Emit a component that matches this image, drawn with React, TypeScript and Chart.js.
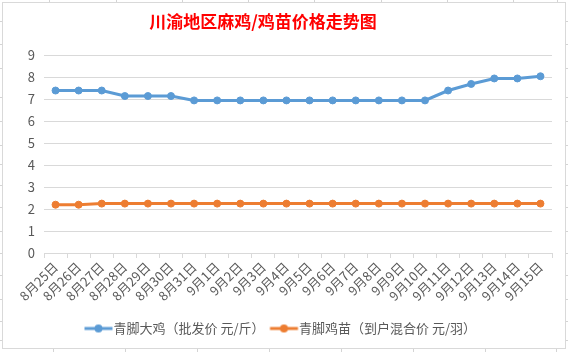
import React, { useEffect, useRef } from "react";
import { Chart, registerables } from "chart.js";

Chart.register(...registerables);

const categories = [
  "8月25日", "8月26日", "8月27日", "8月28日", "8月29日", "8月30日", "8月31日",
  "9月1日", "9月2日", "9月3日", "9月4日", "9月5日", "9月6日", "9月7日", "9月8日",
  "9月9日", "9月10日", "9月11日", "9月12日", "9月13日", "9月14日", "9月15日",
];

const broilerPrices = [
  7.4, 7.4, 7.4, 7.15, 7.15, 7.15, 6.95,
  6.95, 6.95, 6.95, 6.95, 6.95, 6.95, 6.95, 6.95,
  6.95, 6.95, 7.4, 7.7, 7.95, 7.95, 8.05,
];

const chickPrices = [
  2.2, 2.2, 2.25, 2.25, 2.25, 2.25, 2.25,
  2.25, 2.25, 2.25, 2.25, 2.25, 2.25, 2.25, 2.25,
  2.25, 2.25, 2.25, 2.25, 2.25, 2.25, 2.25,
];

const seriesNames = ["青脚大鸡（批发价 元/斤）", "青脚鸡苗（到户混合价 元/羽）"];
const titleText = "川渝地区麻鸡/鸡苗价格走势图";
const yTicks = [0, 1, 2, 3, 4, 5, 6, 7, 8, 9];

const BLUE = "#5b9bd5";
const ORANGE = "#ed7d31";
const GRID = "#d9d9d9";
const TEXT = "#595959";
const FONT = "'Noto Sans CJK SC', 'Noto Sans', sans-serif";

const sheetLeftRight = [21, 44, 68, 97, 121, 145, 164, 185, 207, 231, 253, 275, 299, 321, 340];
const sheetTop = [49, 116, 182, 248, 314, 381, 447, 513, 557];
const sheetBottom = [53, 125, 197, 269, 341, 413, 485, 556];

function legendImage(color: string) {
  const c = document.createElement("canvas");
  c.width = 50;
  c.height = 10;
  const ctx = c.getContext("2d")!;
  ctx.strokeStyle = color;
  ctx.lineWidth = 3;
  ctx.beginPath();
  ctx.moveTo(16.5, 5);
  ctx.lineTo(44.5, 5);
  ctx.stroke();
  ctx.fillStyle = color;
  ctx.beginPath();
  ctx.arc(30.5, 5, 4, 0, Math.PI * 2);
  ctx.fill();
  return c;
}

const titlePlugin = {
  id: "customTitle",
  afterDraw(chart: any) {
    const ctx = chart.ctx;
    ctx.save();
    ctx.font = `bold 17px ${FONT}`;
    ctx.fillStyle = "#ff0000";
    ctx.textAlign = "center";
    ctx.textBaseline = "middle";
    ctx.fillText(titleText, chart.width * 0.4625, 19);
    ctx.restore();
  },
};

export default function App() {
  const ref = useRef<HTMLCanvasElement>(null);

  useEffect(() => {
    if (!ref.current) return;
    const imgs = [legendImage(BLUE), legendImage(ORANGE)];
    const chart = new Chart(ref.current, {
      type: "line",
      data: {
        labels: categories,
        datasets: [
          {
            label: seriesNames[0],
            data: broilerPrices,
            borderColor: BLUE,
            backgroundColor: BLUE,
            borderWidth: 3,
            pointRadius: 3.5,
            pointBackgroundColor: BLUE,
            pointBorderColor: BLUE,
            pointBorderWidth: 1,
            tension: 0,
          },
          {
            label: seriesNames[1],
            data: chickPrices,
            borderColor: ORANGE,
            backgroundColor: ORANGE,
            borderWidth: 3,
            pointRadius: 3.5,
            pointBackgroundColor: ORANGE,
            pointBorderColor: ORANGE,
            pointBorderWidth: 1,
            tension: 0,
          },
        ],
      },
      options: {
        animation: false,
        responsive: true,
        maintainAspectRatio: false,
        layout: { padding: { left: 0, right: 13, top: 0, bottom: 3 } },
        plugins: {
          title: {
            display: true,
            text: titleText,
            color: "rgba(0,0,0,0)",
            font: { family: FONT, size: 17, weight: "bold" },
            padding: { top: 9, bottom: 23 },
          },
          legend: {
            display: true,
            position: "bottom",
            labels: {
              color: TEXT,
              font: { family: FONT, size: 13 },
              usePointStyle: true,
              pointStyleWidth: 28,
              padding: 0,
              generateLabels: (ch: any) =>
                ch.data.datasets.map((ds: any, i: number) => ({
                  text: ds.label,
                  fillStyle: ds.borderColor,
                  strokeStyle: ds.borderColor,
                  lineWidth: 0,
                  pointStyle: imgs[i],
                  hidden: false,
                  datasetIndex: i,
                  fontColor: TEXT,
                })),
            },
          },
          tooltip: { enabled: false },
        },
        scales: {
          x: {
            type: "category",
            offset: true,
            grid: {
              display: true,
              offset: true,
              drawOnChartArea: false,
              drawTicks: true,
              tickLength: 5,
              color: GRID,
            },
            border: { display: true, color: GRID },
            ticks: {
              color: TEXT,
              font: { family: FONT, size: 13 },
              autoSkip: false,
              minRotation: 45,
              maxRotation: 45,
              padding: 1,
            },
            afterFit: (s: any) => {
              s.height = 69;
            },
          },
          y: {
            min: 0,
            max: 9,
            afterBuildTicks: (s: any) => {
              s.ticks = yTicks.map((v) => ({ value: v }));
            },
            grid: { color: GRID, drawTicks: false },
            border: { display: false },
            ticks: {
              color: TEXT,
              font: { family: FONT, size: 13 },
              padding: 9,
              stepSize: 1,
            },
            afterFit: (s: any) => {
              s.width = 41;
            },
          },
        },
      },
      plugins: [titlePlugin],
    });
    let alive = true;
    if ((document as any).fonts && (document as any).fonts.load) {
      Promise.all([
        (document as any).fonts.load(`13px ${FONT}`, "青脚大鸡批发价元斤"),
        (document as any).fonts.load(`bold 17px ${FONT}`, titleText),
      ]).then(() => {
        if (alive) chart.update();
      });
    }
    return () => {
      alive = false;
      chart.destroy();
    };
  }, []);

  return (
    <div
      style={{
        position: "fixed",
        left: 0,
        top: 0,
        width: 568,
        height: 352,
        background: "#ffffff",
        overflow: "hidden",
      }}
    >
      {sheetLeftRight.map((y, i) => (
        <div key={"l" + i} style={{ position: "absolute", left: 0, top: y, width: 3, height: 1, background: "#d4d4d4" }} />
      ))}
      {sheetLeftRight.map((y, i) => (
        <div key={"r" + i} style={{ position: "absolute", left: 565, top: y, width: 3, height: 1, background: "#d4d4d4" }} />
      ))}
      {sheetTop.map((x, i) => (
        <div key={"t" + i} style={{ position: "absolute", left: x, top: 0, width: 1, height: 2, background: "#d4d4d4" }} />
      ))}
      {sheetBottom.map((x, i) => (
        <div key={"b" + i} style={{ position: "absolute", left: x, top: 349, width: 1, height: 3, background: "#d4d4d4" }} />
      ))}
      <div
        style={{
          position: "absolute",
          left: 2,
          top: 2,
          width: 562,
          height: 345,
          border: "1px solid #d9d9d9",
          background: "#ffffff",
        }}
      >
        <canvas ref={ref} />
      </div>
    </div>
  );
}
